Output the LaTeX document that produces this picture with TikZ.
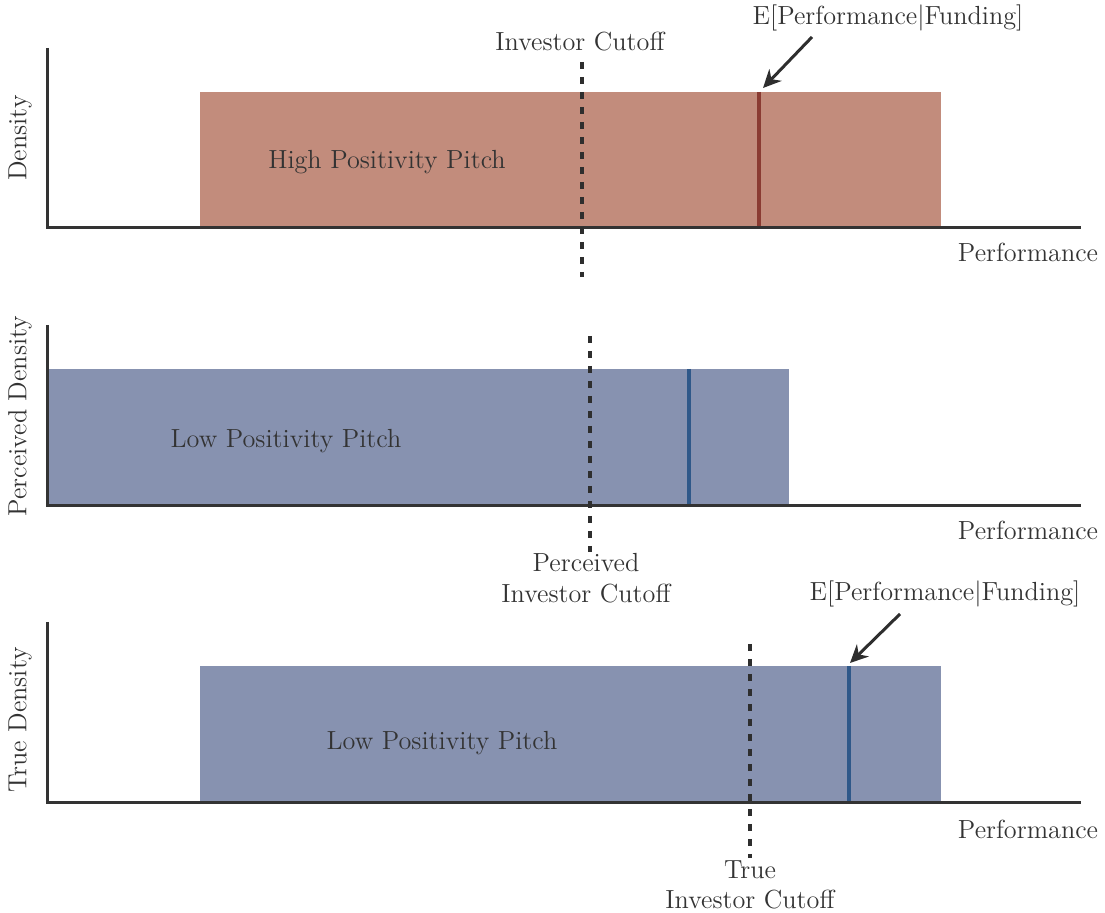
\documentclass[tikz,border=0pt]{standalone}
\usepackage{fontspec}
\usetikzlibrary{arrows.meta}
\definecolor{txt}{HTML}{333333}
\definecolor{redfill}{HTML}{C28C7C}
\definecolor{redline}{HTML}{8A3B32}
\definecolor{bluefill}{HTML}{8792B0}
\definecolor{blueline}{HTML}{2F5889}
\tikzset{
  axis/.style={draw=txt, line width=1.5pt},
  cutoff/.style={draw=txt!90!black, line width=2pt, dash pattern=on 3.75pt off 3.75pt},
  meanline/.style={line width=2.2pt},
  lbl/.style={text=txt, font=\fontsize{13.1}{15.2}\selectfont, inner sep=0pt, align=center},
  ptr/.style={draw=txt!90!black, line width=1.5pt, -{Stealth[length=9pt,width=8.5pt]}},
}
\begin{document}
\begin{tikzpicture}[x=0.5pt,y=-0.5pt]
\useasboundingbox (0,0) rectangle (1105,913);
% ---------- panel 1 ----------
\fill[redfill] (200,92) rectangle (941,228);
\draw[meanline, redline] (759,92) -- (759,228);
\draw[axis] (47,48) -- (47,228) -- (1081,228);
\draw[cutoff] (582,62) -- (582,277);
\node[lbl] (cut1) at (580,42) {Investor Cutoff};
\node[lbl] (hp) at (387,162) {High Positivity Pitch};
\node[lbl] (perf1) at (1028,252) {Performance};
\node[lbl, rotate=90] (dens1) at (20,138) {Density};
\node[lbl] (e1) at (888,18) {E[Performance|Funding]};
\coordinate (m1) at (763,88);
\coordinate (s1) at (812,37);
\draw[ptr] (s1) -- (m1);
% ---------- panel 2 ----------
\fill[bluefill] (47,369) rectangle (789,506);
\draw[meanline, blueline] (689,369) -- (689,506);
\draw[axis] (47,325) -- (47,506) -- (1081,506);
\draw[cutoff] (590,336) -- (590,552);
\node[lbl] (cut2) at (586,578) {Perceived\\Investor Cutoff};
\node[lbl] (lp2) at (286,441) {Low Positivity Pitch};
\node[lbl] (perf2) at (1028,530) {Performance};
\node[lbl, rotate=90] (dens2) at (20,416) {Perceived Density};
% ---------- panel 3 ----------
\fill[bluefill] (200,666) rectangle (941,803);
\draw[meanline, blueline] (849,666) -- (849,803);
\draw[axis] (47,622) -- (47,803) -- (1081,803);
\draw[cutoff] (750,644) -- (750,858);
\node[lbl] (cut3) at (750,885) {True\\Investor Cutoff};
\node[lbl] (lp3) at (442,743) {Low Positivity Pitch};
\node[lbl] (perf3) at (1028,829) {Performance};
\node[lbl, rotate=90] (dens3) at (20,720) {True Density};
\node[lbl] (e3) at (945,594) {E[Performance|Funding]};
\coordinate (m3) at (850,663);
\coordinate (s3) at (900,614);
\draw[ptr] (s3) -- (m3);
\end{tikzpicture}
\end{document}
